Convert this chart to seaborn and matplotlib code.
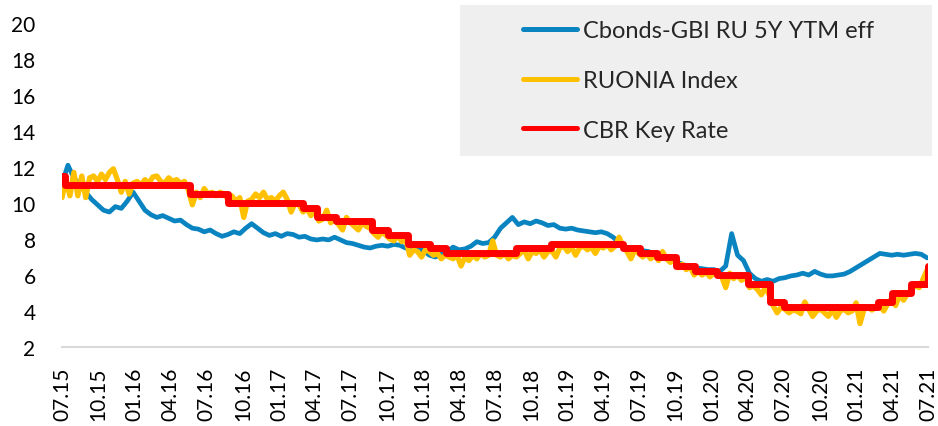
import matplotlib
matplotlib.use("Agg")
import matplotlib.pyplot as plt
from matplotlib.patches import Rectangle
import pandas as pd
import seaborn as sns

# Cbonds-GBI RU 5Y YTM eff, %, every 15 days from 27 Jul 2015
gbi_start = "2015-07-27"
gbi_values = [
    11.1, 12.1, 11.4, 11.0, 10.6, 10.2, 9.9, 9.6, 9.5, 9.8,
    9.7, 10.1, 10.6, 10.1, 9.6, 9.35, 9.2, 9.3, 9.15, 9.0,
    9.05, 8.8, 8.6, 8.55, 8.4, 8.5, 8.3, 8.15, 8.25, 8.4,
    8.3, 8.6, 8.85, 8.6, 8.35, 8.2, 8.3, 8.15, 8.3, 8.25,
    8.1, 8.15, 8.0, 7.95, 8.0, 7.95, 8.1, 7.95, 7.8, 7.75,
    7.65, 7.55, 7.5, 7.6, 7.65, 7.6, 7.7, 7.65, 7.5, 7.4,
    7.5, 7.35, 7.1, 7.0, 7.15, 7.3, 7.55, 7.4, 7.45, 7.6,
    7.85, 7.75, 7.8, 8.1, 8.6, 8.9, 9.2, 8.8, 8.95, 8.85,
    9.0, 8.9, 8.75, 8.8, 8.6, 8.55, 8.6, 8.5, 8.45, 8.4,
    8.35, 8.4, 8.3, 8.1, 7.8, 7.55, 7.5, 7.3, 7.35, 7.3,
    7.15, 7.0, 6.9, 6.8, 6.7, 6.55, 6.5, 6.4, 6.35, 6.3,
    6.3, 6.2, 6.5, 8.3, 7.1, 6.8, 6.1, 5.8, 5.65, 5.75,
    5.65, 5.8, 5.85, 5.95, 6.0, 6.1, 6.0, 6.2, 6.05, 5.95,
    5.95, 6.0, 6.05, 6.2, 6.4, 6.6, 6.8, 7.0, 7.2, 7.15,
    7.1, 7.15, 7.1, 7.15, 7.2, 7.15, 6.95,
]

# RUONIA, %, every 10 days from 27 Jul 2015
ruonia_start = "2015-07-27"
ruonia_values = [
    10.3, 11.3, 10.4, 11.7, 10.4, 11.5, 10.3, 11.4, 11.5, 11.2,
    11.6, 11.3, 11.7, 11.9, 11.3, 10.6, 11.2, 10.5, 11.1, 11.2,
    11.0, 11.3, 11.1, 11.45, 11.5, 11.2, 11.1, 11.4, 11.2, 11.3,
    11.1, 11.2, 10.7, 9.9, 10.6, 10.3, 10.8, 10.5, 10.6, 10.4,
    10.6, 10.5, 10.2, 10.4, 10.1, 10.3, 9.2, 10.1, 10.2, 10.5,
    10.3, 10.6, 10.2, 10.3, 10.1, 10.4, 10.6, 10.2, 9.5, 10.0,
    9.9, 9.5, 9.7, 9.3, 9.6, 9.0, 9.1, 9.6, 8.9, 9.1,
    8.8, 8.5, 9.2, 8.9, 8.7, 8.5, 8.9, 8.7, 8.6, 8.3,
    8.1, 8.4, 8.2, 8.0, 7.9, 8.2, 7.85, 8.0, 7.1, 7.4,
    7.3, 7.0, 7.4, 7.3, 7.1, 7.2, 6.9, 7.1, 7.0, 6.9,
    7.1, 6.5, 7.0, 6.8, 7.1, 6.9, 7.2, 7.0, 7.1, 7.9,
    7.1, 7.0, 7.2, 6.9, 7.1, 7.0, 7.2, 7.4, 6.9, 7.3,
    7.2, 7.4, 7.0, 7.3, 7.35, 7.0, 7.5, 7.6, 7.3, 7.55,
    7.1, 7.5, 7.6, 7.4, 7.55, 7.2, 7.6, 7.5, 7.7, 7.4,
    7.6, 8.1, 7.6, 7.3, 6.9, 7.4, 7.2, 7.0, 7.2, 6.9,
    7.1, 6.8, 7.3, 6.9, 6.7, 6.9, 6.4, 6.6, 6.3, 6.45,
    6.0, 6.2, 6.0, 6.15, 5.9, 6.1, 6.0, 5.9, 5.3, 6.1,
    5.8, 6.0, 5.7, 5.95, 5.3, 5.4, 5.2, 4.9, 5.3, 4.9,
    4.3, 3.9, 4.2, 4.1, 3.9, 4.05, 4.0, 3.85, 4.5, 4.1,
    3.7, 4.0, 4.1, 3.9, 3.7, 4.1, 3.65, 4.0, 4.1, 3.9,
    4.0, 4.45, 3.3, 4.1, 4.2, 4.05, 4.2, 4.3, 4.0, 4.4,
    4.7, 4.3, 4.9, 4.6, 4.95, 5.2, 5.4, 5.3, 5.8, 6.3,
]

# CBR key rate decisions (effective date, %)
key_dates = [
    "2015-07-27", "2015-08-03", "2016-06-14", "2016-09-19", "2017-03-27",
    "2017-05-02", "2017-06-19", "2017-09-18", "2017-10-30", "2017-12-18",
    "2018-02-12", "2018-03-26", "2018-09-17", "2018-12-17", "2019-06-17",
    "2019-07-29", "2019-09-09", "2019-10-28", "2019-12-16", "2020-02-10",
    "2020-04-27", "2020-06-22", "2020-07-27", "2021-03-22", "2021-04-26",
    "2021-06-15", "2021-07-26", "2021-07-28",
]
key_rates = [
    11.5, 11.0, 10.5, 10.0, 9.75, 9.25, 9.0, 8.5, 8.25, 7.75,
    7.5, 7.25, 7.5, 7.75, 7.5, 7.25, 7.0, 6.5, 6.25, 6.0,
    5.5, 4.5, 4.25, 4.5, 5.0, 5.5, 6.5, 6.5,
]

series_names = ["Cbonds-GBI RU 5Y YTM eff", "RUONIA Index", "CBR Key Rate"]
series_colors = ["#0A84C1", "#FFC000", "#FF0000"]

tick_labels = [
    "07.15", "10.15", "01.16", "04.16", "07.16", "10.16", "01.17", "04.17",
    "07.17", "10.17", "01.18", "04.18", "07.18", "10.18", "01.19", "04.19",
    "07.19", "10.19", "01.20", "04.20", "07.20", "10.20", "01.21", "04.21",
    "07.21",
]
y_ticks = [2, 4, 6, 8, 10, 12, 14, 16, 18, 20]

gbi = pd.DataFrame({
    "date": pd.date_range(gbi_start, periods=len(gbi_values), freq="15D"),
    "value": gbi_values,
})
ruonia = pd.DataFrame({
    "date": pd.date_range(ruonia_start, periods=len(ruonia_values), freq="10D"),
    "value": ruonia_values,
})
key = pd.DataFrame({"date": pd.to_datetime(key_dates), "value": key_rates})

sns.set_theme(style="white")
plt.rcParams["font.family"] = ["Lato", "DejaVu Sans"]

W, H = 938, 427
fig = plt.figure(figsize=(W / 100, H / 100), dpi=100)
ax = fig.add_axes([62 / W, 1 - 348 / H, (928 - 62) / W, (348 - 24) / H])

sns.lineplot(data=gbi, x="date", y="value", ax=ax, color=series_colors[0],
             linewidth=3.4, label=series_names[0], solid_capstyle="round")
sns.lineplot(data=ruonia, x="date", y="value", ax=ax, color=series_colors[1],
             linewidth=3.8, label=series_names[1], solid_capstyle="round")
sns.lineplot(data=key, x="date", y="value", ax=ax, color=series_colors[2],
             linewidth=5.0, label=series_names[2], drawstyle="steps-post")

tick_dates = pd.date_range("2015-07-27", periods=len(tick_labels),
                           freq=pd.DateOffset(months=3))
ax.set_xlim(tick_dates[0], tick_dates[-1])
ax.set_ylim(y_ticks[0], y_ticks[-1])
ax.set_xticks(tick_dates)
ax.set_xticklabels(tick_labels, rotation=90, fontsize=15, color="black")
ax.set_yticks(y_ticks)
ax.set_yticklabels([str(v) for v in y_ticks], fontsize=15, color="black")
ax.tick_params(axis="x", length=0, pad=14)
ax.tick_params(axis="y", length=0, pad=19)
ax.set_xlabel("")
ax.set_ylabel("")
ax.grid(False)
for side in ("top", "right", "left"):
    ax.spines[side].set_visible(False)
ax.spines["bottom"].set_color("#D9D9D9")
ax.spines["bottom"].set_linewidth(1.5)

# grey legend panel
ax.add_patch(Rectangle((460 / W, 1 - 157 / H), 472 / W, 151 / H,
                       transform=fig.transFigure, facecolor="#EFEFEF",
                       edgecolor="none", clip_on=False, zorder=5))
leg = ax.legend(loc="upper left", bbox_to_anchor=(523 / W, 1 - 21 / H),
                bbox_transform=fig.transFigure, frameon=False, fontsize=17,
                handlelength=2.3, handletextpad=0.25, labelspacing=1.22,
                borderpad=0, borderaxespad=0)
leg.set_zorder(6)
for line in leg.get_lines():
    line.set_linewidth(3.6)
    line.set_solid_capstyle("round")

fig.savefig("out.png", dpi=100)
